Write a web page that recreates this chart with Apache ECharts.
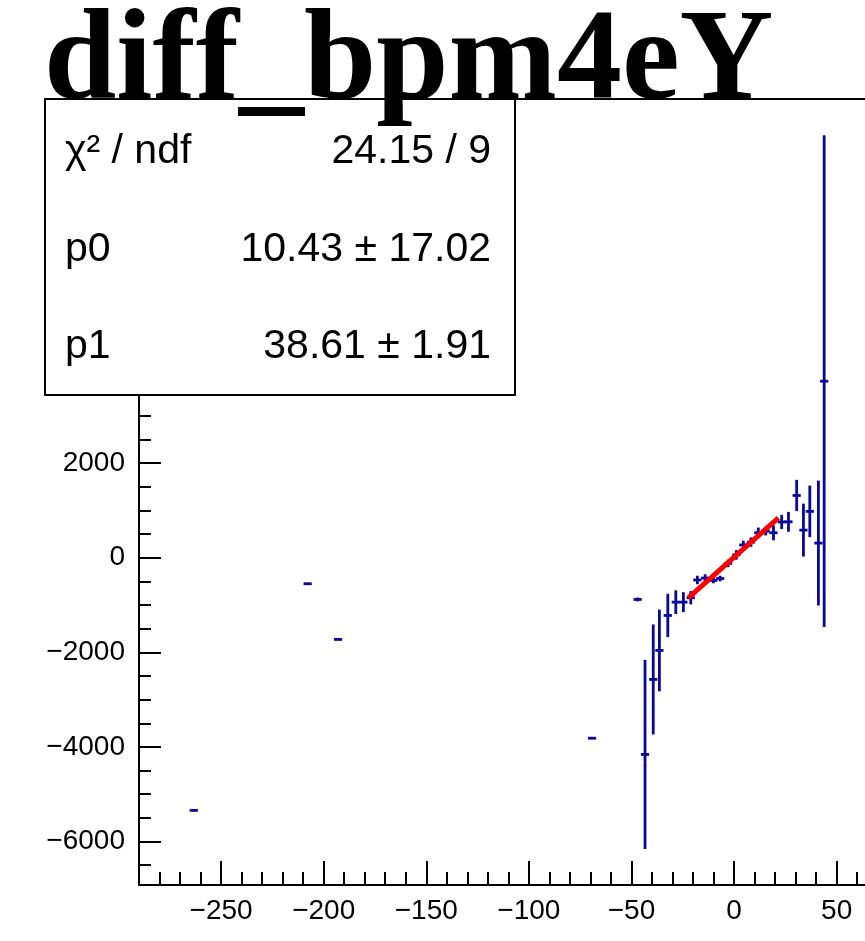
<!DOCTYPE html>
<html>
<head>
<meta charset="utf-8">
<script src="https://cdn.jsdelivr.net/npm/echarts@6/dist/echarts.min.js"></script>
<style>
  html, body { margin: 0; padding: 0; background: #fff; overflow: hidden; }
  #chart { width: 865px; height: 941px; }
</style>
</head>
<body>
<div id="chart"></div>
<script>
// Profile points: bin centre, mean, error on mean, half bin width
const binX = [-263.3, -207.8, -193.0, -69.2,
  -47.0, -43.4, -39.4, -36.4, -32.3, -28.4, -24.7, -21.1, -17.9, -14.1, -10.1, -6.8, -2.9,
  1.1, 4.5, 8.2, 11.8, 15.4, 19.2, 23.2, 26.5, 30.5, 33.8, 36.9, 41.1, 43.9];
const binY = [-5342, -550, -1727, -3816,
  -882, -4159, -2573, -1960, -1220, -939, -939, -846, -470, -430, -480, -440, -120,
  60, 270, 330, 528, 562, 528, 756, 760, 1317, 584, 980, 310, 3734];
const binErr = [20, 20, 20, 20,
  40, 2000, 1163, 863, 458, 250, 210, 140, 90, 80, 60, 60, 80,
  100, 90, 100, 110, 90, 160, 150, 210, 330, 560, 545, 1320, 5200];
const halfWidth = 2.0;

// Linear fit result
const fitRange = [-22.3, 21.6];
const p0 = 10.43;
const p1 = 38.61;
const statNames = ['\u03c7\u00b2 / ndf', 'p0', 'p1'];
const statValues = ['24.15 / 9', '10.43 \u00b1 17.02', '38.61 \u00b1 1.91'];

// Axis ticks and labels (the frame continues past the right edge of the canvas)
const xRange = [-290, 63.8];
const yRange = [-6920, 9700];
const xMajor = [-250, -200, -150, -100, -50, 0, 50];
const yMajor = [-6000, -4000, -2000, 0, 2000, 4000, 6000, 8000];
const xMinor = [];
for (let v = -290; v <= 60; v += 10) xMinor.push(v);
const yMinor = [];
for (let v = -6500; v <= 9500; v += 500) yMinor.push(v);

const titleText = 'diff_bpm4eY';

const chart = echarts.init(document.getElementById('chart'), null, { renderer: 'canvas' });

const pts = binX.map((x, i) => [x, binY[i], binErr[i], halfWidth]);
const fitPts = fitRange.map(x => [x, p0 + p1 * x]);

const markColor = '#08089a';
function renderErr(params, api) {
  const x = api.value(0), y = api.value(1), ey = api.value(2), ex = api.value(3);
  const t = api.coord([x, y + ey]);
  const b = api.coord([x, y - ey]);
  const l = api.coord([x - ex, y]);
  const r = api.coord([x + ex, y]);
  const st = { stroke: markColor, lineWidth: 2.8 };
  return {
    type: 'group',
    children: [
      { type: 'line', shape: { x1: l[0], y1: l[1], x2: r[0], y2: r[1] }, style: st },
      { type: 'line', shape: { x1: t[0], y1: t[1], x2: b[0], y2: b[1] }, style: st }
    ]
  };
}

const labelFont = { fontFamily: 'Liberation Sans', fontSize: 28, color: '#000' };
const fmt = v => (v < 0 ? '\u2212' + Math.abs(v) : String(v));
const axisPen = { color: '#000', width: 2 };

const option = {
  animation: false,
  backgroundColor: '#fff',
  grid: { left: 139, top: 99, right: 0, height: 786, show: false },
  xAxis: [
    { type: 'value', min: xRange[0], max: xRange[1], position: 'bottom',
      splitLine: { show: false },
      axisLine: { show: true, onZero: false, lineStyle: axisPen },
      axisTick: { show: true, inside: true, length: 24, customValues: xMajor, lineStyle: axisPen },
      axisLabel: Object.assign({ show: true, margin: 12, customValues: xMajor, formatter: fmt }, labelFont) },
    { type: 'value', min: xRange[0], max: xRange[1], position: 'bottom',
      splitLine: { show: false },
      axisLine: { show: false, onZero: false },
      axisTick: { show: true, inside: true, length: 13, customValues: xMinor, lineStyle: axisPen },
      axisLabel: { show: false } },
    { type: 'value', min: xRange[0], max: xRange[1], position: 'top',
      splitLine: { show: false },
      axisLine: { show: true, onZero: false, lineStyle: axisPen },
      axisTick: { show: false },
      axisLabel: { show: false } }
  ],
  yAxis: [
    { type: 'value', min: yRange[0], max: yRange[1], position: 'left',
      splitLine: { show: false },
      axisLine: { show: true, onZero: false, lineStyle: axisPen },
      axisTick: { show: true, inside: true, length: 22, customValues: yMajor, lineStyle: axisPen },
      axisLabel: Object.assign({ show: true, margin: 14, customValues: yMajor, formatter: fmt }, labelFont) },
    { type: 'value', min: yRange[0], max: yRange[1], position: 'left',
      splitLine: { show: false },
      axisLine: { show: false, onZero: false },
      axisTick: { show: true, inside: true, length: 12, customValues: yMinor, lineStyle: axisPen },
      axisLabel: { show: false } }
  ],
  series: [
    { type: 'custom', name: 'profile', xAxisIndex: 0, yAxisIndex: 0,
      renderItem: renderErr, data: pts, z: 3,
      encode: { x: 0, y: 1 } },
    { type: 'line', name: 'fit', xAxisIndex: 0, yAxisIndex: 0, data: fitPts,
      showSymbol: false, symbol: 'none', z: 5,
      lineStyle: { color: '#ff0000', width: 5 } }
  ],
  graphic: [
    { type: 'rect', z: 100, shape: { x: 45, y: 99, width: 470, height: 296 },
      style: { fill: '#fff', stroke: '#000', lineWidth: 2 } },
    ...statNames.map((n, i) => ({ type: 'text', z: 101, x: 65, y: 152 + i * 97.5,
      style: { text: n, fontFamily: 'Liberation Sans', fontSize: 41, fill: '#000',
               textAlign: 'left', textVerticalAlign: 'middle' } })),
    ...statValues.map((v, i) => ({ type: 'text', z: 101, x: 491, y: 152 + i * 97.5,
      style: { text: v, fontFamily: 'Liberation Sans', fontSize: 41, fill: '#000',
               textAlign: 'right', textVerticalAlign: 'middle' } })),
    { type: 'text', z: 110, x: 44, y: -1,
      style: { text: titleText, fontFamily: 'Liberation Serif', fontWeight: 'bold',
               fontSize: 130, fill: '#000', textAlign: 'left', textVerticalAlign: 'top' } }
  ]
};

chart.setOption(option);
</script>
</body>
</html>
